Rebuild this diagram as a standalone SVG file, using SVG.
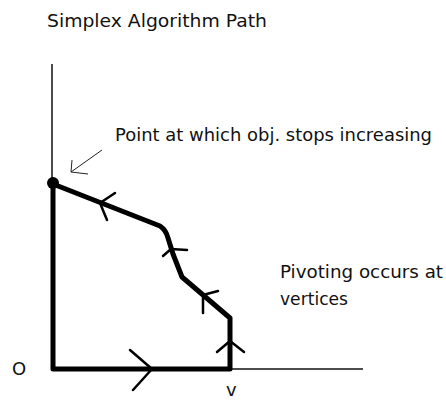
<svg xmlns="http://www.w3.org/2000/svg" width="446" height="402" viewBox="0 0 446 402">
<style>
text{font-family:"DejaVu Sans","Liberation Sans",sans-serif;font-size:18px;fill:#111}
.axis{stroke:#111;stroke-width:1.5;fill:none}
.path{stroke:#000;stroke-width:5;fill:none;stroke-linejoin:round;stroke-linecap:round}
.chev{stroke:#000;stroke-width:2.5;fill:none;stroke-linecap:round;stroke-linejoin:round}
.thin{stroke:#222;stroke-width:1;fill:none}
</style>
<rect width="446" height="402" fill="#fff"/>
<g id="title"><text x="47" y="27" textLength="220" lengthAdjust="spacingAndGlyphs">Simplex Algorithm  Path</text></g>
<g id="axes">
<line class="axis" x1="52" y1="64" x2="52" y2="184"/>
<line class="axis" x1="230" y1="369" x2="363" y2="369"/>
</g>
<g id="connectors">
<path class="path" d="M53,184 L160,226 Q166,230 168,238 L173,254 L182,277 L230,318 L230,369 L53,369 Z"/>
<polyline class="chev" points="115,193 100,203 107,220"/>
<polyline class="chev" points="187,250 171,249 163,256"/>
<polyline class="chev" points="218,291 203,295 203,313"/>
<polyline class="chev" points="217,352 230,341 244,352"/>
<polyline class="chev" points="130,350 152,369 133,390"/>
<line class="thin" x1="102" y1="150" x2="71" y2="172"/>
<polyline class="thin" points="72,160 71,172 88,174"/>
</g>
<g id="point"><circle cx="53" cy="183" r="6" fill="#000"/></g>
<g id="labels">
<text x="115" y="141" textLength="317" lengthAdjust="spacingAndGlyphs">Point at which obj. stops increasing</text>
<text x="280" y="278" textLength="163" lengthAdjust="spacingAndGlyphs">Pivoting occurs at</text>
<text x="280" y="305" textLength="68" lengthAdjust="spacingAndGlyphs">vertices</text>
<text x="12" y="375">O</text>
<text x="226" y="396">v</text>
</g>
</svg>
